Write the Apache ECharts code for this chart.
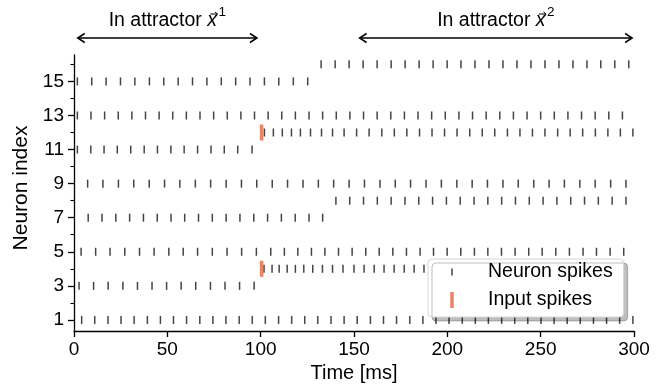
<!DOCTYPE html>
<html>
	<head>
		<meta charset="utf-8" />
		<title></title>
		<script src="https://cdn.jsdelivr.net/npm/echarts@6/dist/echarts.min.js"></script>
		<style>html, body { margin: 0; padding: 0; background: #fff; }</style>
	</head>
	<body>
		<div id="raster" style="width: 667px; height: 387px;"></div>
		<script>
		// spike times [ms] per neuron
		var n1 = [4.1, 11.1, 18.2, 25.2, 32.2, 39.3, 46.3, 53.3, 60.3, 67.4, 74.4, 81.4, 88.5, 95.5, 102.5, 109.6, 116.6, 123.6, 130.6, 137.7, 144.7, 151.7, 158.8, 165.8, 172.8, 179.9, 186.9, 193.9, 200.9, 208.0, 215.0, 222.0, 229.1, 236.1, 243.1, 250.2, 257.2, 264.2, 271.2, 278.3, 285.3, 292.3, 299.4];
		var n3 = [2.7, 10.5, 18.3, 26.2, 34.0, 41.8, 49.6, 57.4, 65.2, 73.1, 80.9, 88.7, 96.5];
		var n4 = [101.8, 106.1, 109.9, 114.2, 118.6, 123.1, 127.9, 133.1, 138.5, 144.1, 150.0, 155.4, 160.8, 166.1, 171.5, 176.9, 182.2, 187.5];
		var n5 = [3.8, 11.6, 19.3, 27.2, 35.1, 42.9, 50.8, 58.5, 66.2, 74.1, 82.0, 89.8, 97.7, 105.4, 112.7, 119.9, 127.2, 134.4, 141.7, 149.0, 156.3, 163.5, 170.8, 178.1, 185.4, 192.6, 199.9, 207.2, 214.5, 221.7, 229.0, 236.3, 243.6, 250.8, 258.1, 265.4, 272.7, 279.9, 287.2, 294.5];
		var n7 = [7.6, 15.0, 22.4, 29.8, 37.2, 44.6, 52.0, 59.3, 66.7, 74.1, 81.5, 88.9, 96.3, 103.7, 111.1, 118.5, 125.9, 133.2];
		var n8 = [140.3, 147.7, 155.1, 162.5, 169.9, 177.3, 184.7, 192.1, 199.5, 206.9, 214.3, 221.7, 229.1, 236.5, 243.9, 251.3, 258.7, 266.1, 273.5, 280.9, 288.3, 295.7];
		var n9 = [7.3, 15.5, 23.8, 32.0, 40.3, 48.5, 56.7, 65.0, 73.2, 81.5, 89.7, 97.9, 106.2, 114.4, 122.7, 130.9, 139.1, 147.4, 155.6, 163.9, 172.1, 180.3, 188.6, 196.8, 205.1, 213.3, 221.5, 229.8, 238.0, 246.3, 254.5, 262.7, 271.0, 279.2, 287.5, 295.7];
		var n11 = [1.8, 9.0, 16.1, 23.2, 30.4, 37.6, 44.7, 51.9, 59.0, 66.2, 73.4, 80.5, 87.7, 95.4];
		var n12 = [102.0, 106.8, 111.6, 116.5, 121.3, 126.7, 132.6, 138.5, 144.7, 151.4, 158.1, 164.9, 171.6, 178.3, 185.1, 191.8, 198.5, 205.2, 212.0, 218.7, 225.4, 232.2, 238.9, 245.6, 252.3, 259.1, 265.8, 272.5, 279.3, 286.0, 292.7, 299.4];
		var n13 = [1.8, 9.1, 16.4, 23.7, 31.0, 38.3, 45.6, 52.9, 60.2, 67.5, 74.8, 82.1, 89.4, 96.7, 104.0, 111.3, 118.6, 125.9, 133.2, 140.5, 147.8, 155.1, 162.4, 169.7, 177.0, 184.3, 191.6, 198.9, 206.2, 213.5, 220.8, 228.1, 235.4, 242.7, 250.0, 257.3, 264.6, 271.9, 279.2, 286.5, 293.8];
		var n15 = [1.8, 9.5, 17.2, 24.9, 32.6, 40.4, 48.1, 55.8, 63.5, 71.2, 78.9, 86.6, 94.3, 102.0, 109.7, 117.5, 125.2];
		var n16 = [132.4, 139.9, 147.4, 154.9, 162.4, 169.9, 177.4, 184.9, 192.4, 199.9, 207.3, 214.8, 222.3, 229.8, 237.3, 244.8, 252.3, 259.8, 267.3, 274.8, 282.2, 289.7, 297.2];
		var neuronRows = [[1, n1], [3, n3], [4, n4], [5, n5], [7, n7], [8, n8], [9, n9], [11, n11], [12, n12], [13, n13], [15, n15], [16, n16]];

		// external input pulses
		var inputRows = [12, 4];
		var inputTimes = [100.5, 100.5];

		var yLabelValues = [1, 3, 5, 7, 9, 11, 13, 15];
		var yMinorValues = [2, 4, 6, 8, 10, 12, 14, 16];

		// time spans of the two attractor states
		var attractors = [
			{ sup: '1', from: 2, to: 98 },
			{ sup: '2', from: 153, to: 299 }
		];

		var FONT = '"Liberation Sans", Arial, Helvetica, sans-serif';

		var spikeData = [];
		neuronRows.forEach(function (r) {
			r[1].forEach(function (t) { spikeData.push([t, r[0]]); });
		});
		var inputData = inputRows.map(function (n, i) { return [inputTimes[i], n]; });

		var chart = echarts.init(document.getElementById('raster'));
		var option = {
			animation: false,
			backgroundColor: '#fff',
			grid: { left: 74, right: 33, top: 55, bottom: 56, containLabel: false, outerBoundsMode: 'none' },
			xAxis: {
				type: 'value', min: 0, max: 300, interval: 50,
				name: 'Time [ms]', nameLocation: 'middle', nameGap: 32,
				nameTextStyle: { fontSize: 20, color: '#000', fontFamily: FONT },
				axisLine: { lineStyle: { color: '#000', width: 1.3 } },
				axisTick: { length: 6, lineStyle: { color: '#000', width: 1.3 } },
				axisLabel: { fontSize: 19, color: '#000', margin: 9, fontFamily: FONT },
				splitLine: { show: false }
			},
			yAxis: [{
				type: 'value', min: 0.35, max: 16.55,
				name: 'Neuron index', nameLocation: 'middle', nameGap: 41, nameRotate: 90,
				nameTextStyle: { fontSize: 21, color: '#000', fontFamily: FONT, padding: [0, 0, 0, 10] },
				axisLine: { show: true, lineStyle: { color: '#000', width: 1.3 } },
				axisTick: { show: true, length: 6, customValues: yLabelValues, lineStyle: { color: '#000', width: 1.3 } },
				axisLabel: { fontSize: 19, color: '#000', margin: 10, customValues: yLabelValues, fontFamily: FONT },
				splitLine: { show: false }
			}, {
				type: 'value', min: 0.35, max: 16.55, position: 'left', offset: 0,
				axisLine: { show: false },
				axisTick: { show: true, length: 3.5, customValues: yMinorValues, lineStyle: { color: '#000', width: 1.1 } },
				axisLabel: { show: false },
				splitLine: { show: false }
			}],
			legend: {
				orient: 'vertical', left: 428, top: 259,
				padding: [3, 11, 7, 15], itemGap: 8, itemWidth: 40, itemHeight: 20,
				backgroundColor: '#fff', borderColor: '#d6d6d6', borderWidth: 1, borderRadius: 4,
				shadowColor: 'rgba(0,0,0,0.25)', shadowBlur: 0, shadowOffsetX: 4, shadowOffsetY: 4,
				selectedMode: false,
				textStyle: { fontSize: 19.5, color: '#000', fontFamily: FONT },
				data: [
					{ name: 'Neuron spikes', icon: 'path://M0,0M40,20M8.25,6.5h1.5v7h-1.5z' },
					{ name: 'Input spikes', icon: 'path://M0,0M40,20M7.25,2h3.5v16h-3.5z' }
				]
			},
			series: [{
				name: 'Neuron spikes', type: 'scatter', silent: true,
				symbol: 'rect', symbolSize: [1.5, 8],
				itemStyle: { color: '#151515' },
				data: spikeData
			}, {
				name: 'Input spikes', type: 'scatter', silent: true, z: 3,
				symbol: 'rect', symbolSize: [3.5, 16],
				itemStyle: { color: '#e8643f' },
				data: inputData
			}]
		};
		chart.setOption(option);

		// annotation arrows above the plot, placed with the x axis scale
		var ctx = document.createElement('canvas').getContext('2d');
		function textWidth(str, font) { ctx.font = font; return ctx.measureText(str).width; }

		var TS = 19.5;
		var graphics = [];
		attractors.forEach(function (a) {
			var x1 = chart.convertToPixel({ xAxisIndex: 0 }, a.from);
			var x2 = chart.convertToPixel({ xAxisIndex: 0 }, a.to);
			var ay = 38, hl = 7, hw = 4.5;
			var line = { stroke: '#000', lineWidth: 1.5, fill: null };
			graphics.push({ type: 'polyline', silent: true, shape: { points: [[x1, ay], [x2, ay]] }, style: line });
			graphics.push({ type: 'polyline', silent: true, shape: { points: [[x1 + hl, ay - hw], [x1, ay], [x1 + hl, ay + hw]] }, style: line });
			graphics.push({ type: 'polyline', silent: true, shape: { points: [[x2 - hl, ay - hw], [x2, ay], [x2 - hl, ay + hw]] }, style: line });

			var w1 = textWidth('In attractor ', TS + 'px ' + FONT);
			var w2 = textWidth('x', 'italic ' + TS + 'px ' + FONT);
			var w3 = textWidth(a.sup, '13.5px ' + FONT);
			var left = (x1 + x2) / 2 - (w1 + w2 + 1.5 + w3) / 2;
			graphics.push({ type: 'text', silent: true, x: left, y: 21,
				style: { text: 'In attractor ', fontSize: TS, fontFamily: FONT, fill: '#000', textAlign: 'left', textVerticalAlign: 'middle' } });
			graphics.push({ type: 'text', silent: true, x: left + w1, y: 21,
				style: { text: 'x', fontSize: TS, fontStyle: 'italic', fontFamily: FONT, fill: '#000', textAlign: 'left', textVerticalAlign: 'middle' } });
			graphics.push({ type: 'text', silent: true, x: left + w1 + w2 + 1.5, y: 12,
				style: { text: a.sup, fontSize: 13.5, fontFamily: FONT, fill: '#000', textAlign: 'left', textVerticalAlign: 'middle' } });
			// small vector arrow over the x
			var vx1 = left + w1 + 3, vx2 = left + w1 + w2 + 0.5, vy = 14;
			var thin = { stroke: '#000', lineWidth: 1, fill: null };
			graphics.push({ type: 'polyline', silent: true, shape: { points: [[vx1, vy], [vx2, vy]] }, style: thin });
			graphics.push({ type: 'polyline', silent: true, shape: { points: [[vx2 - 2.5, vy - 2], [vx2, vy], [vx2 - 2.5, vy + 2]] }, style: thin });
		});
		chart.setOption({ graphic: graphics });
		</script>
	</body>
</html>
